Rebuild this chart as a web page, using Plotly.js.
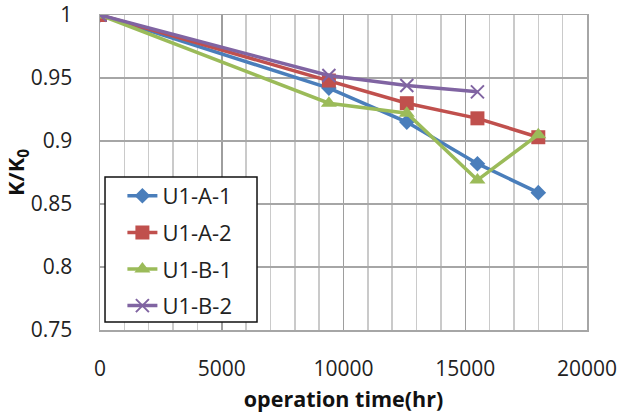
<!DOCTYPE html>
<html><head><meta charset="utf-8">
<script src="https://cdn.plot.ly/plotly-3.0.1.min.js"></script>
<style>html,body{margin:0;padding:0;background:#fff}#chart{width:622px;height:416px}</style>
</head><body><div id="chart"></div>
<script>
const seriesNames = ["U1-A-1", "U1-A-2", "U1-B-1", "U1-B-2"];
const hoursA1 = [0, 9400, 12600, 15500, 18000];
const valuesA1 = [1, 0.942, 0.915, 0.882, 0.859];
const hoursA2 = [0, 9400, 12600, 15500, 18000];
const valuesA2 = [1, 0.948, 0.930, 0.918, 0.903];
const hoursB1 = [0, 9400, 12600, 15500, 18000];
const valuesB1 = [1, 0.930, 0.922, 0.869, 0.905];
const hoursB2 = [0, 9400, 12600, 15500];
const valuesB2 = [1, 0.952, 0.944, 0.939];
const xTicks = [0, 5000, 10000, 15000, 20000];
const yTicks = [0.75, 0.8, 0.85, 0.9, 0.95, 1];
const yTickText = ["0.75", "0.8", "0.85", "0.9", "0.95", "1"];

const colors = ["#4A7EBB", "#C0504D", "#9BBB59", "#8064A2"];
const symbols = ["diamond", "square", "triangle-up", "x-thin-open"];
const sizes = [12, 14, 14, 13];
const xs = [hoursA1, hoursA2, hoursB1, hoursB2];
const ys = [valuesA1, valuesA2, valuesB1, valuesB2];

const data = seriesNames.map((n, i) => ({
  type: "scatter", mode: "lines+markers", name: n, legendgroup: "g" + i,
  x: xs[i], y: ys[i],
  line: {color: colors[i], width: 3.5},
  marker: {symbol: symbols[i], size: sizes[i], color: colors[i],
           line: {color: colors[i], width: i === 3 ? 2 : 0}}
}));

const font = "'Open Sans', 'Liberation Sans', sans-serif";
const layout = {
  width: 622, height: 416,
  margin: {l: 100, r: 35, t: 15, b: 86},
  paper_bgcolor: "#fff", plot_bgcolor: "#fff",
  showlegend: true,
  font: {family: font, size: 21, color: "#222"},
  xaxis: {
    range: [0, 20000], tickvals: xTicks, ticktext: xTicks.map(String),
    showgrid: true, gridcolor: "#9E9E9E", gridwidth: 1.5,
    minor: {dtick: 1000, showgrid: true, gridcolor: "#CACACA", gridwidth: 1.5},
    zeroline: false, showline: true, linecolor: "#A6A6A6", linewidth: 1.5, mirror: true,
    ticks: "", ticklabelstandoff: 19,
    tickfont: {size: 21, family: font, color: "#222"},
    title: {text: "operation time(hr)", font: {size: 21.5, family: font, color: "#111", weight: "bold"}, standoff: 11}
  },
  yaxis: {
    range: [0.75, 1], tickvals: yTicks, ticktext: yTickText,
    showgrid: true, gridcolor: "#A6A6A6", gridwidth: 1.5,
    zeroline: false, showline: true, linecolor: "#A6A6A6", linewidth: 1.5, mirror: true,
    ticks: "", ticklabelstandoff: 22, tickfont: {size: 21, family: font, color: "#222"},
    title: {text: "K/K<sub>0</sub>", font: {size: 22, family: font, color: "#111", weight: "bold"}, standoff: 0}
  },
  shapes: [{
    type: "rect", xref: "paper", yref: "paper", layer: "above",
    x0: 0.0103, x1: 0.3224, y0: 0.0254, y1: 0.4857,
    fillcolor: "#fff", line: {color: "#111", width: 1.5}
  }],
  legend: {
    x: 0.046, y: 0.492, xanchor: "left", yanchor: "top",
    bgcolor: "rgba(0,0,0,0)", borderwidth: 0,
    font: {size: 22, family: font, color: "#222"},
    traceorder: "grouped", tracegroupgap: 5, itemwidth: 30
  }
};
Plotly.newPlot("chart", data, layout, {displayModeBar: false, staticPlot: true});
</script></body></html>
